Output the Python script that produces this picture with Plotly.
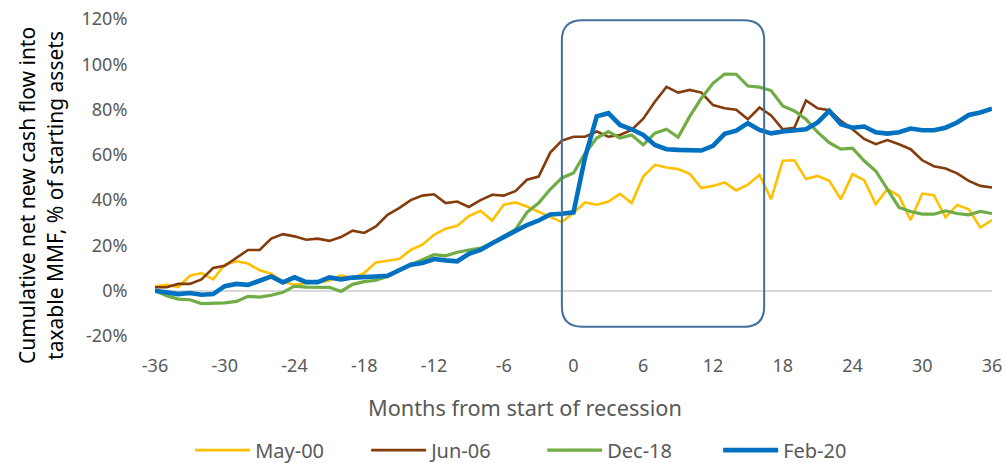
import plotly.graph_objects as go

months = list(range(-36, 37))

may_00 = [2, 2.6, 1.6, 6.6, 7.8, 5, 11.5, 13, 12, 9, 7.5, 4, 2.6, 3.4, 3.7, 4.5, 6.8, 5.5,
          7.8, 12.5, 13.2, 14, 18, 20.3, 24.7, 27.4, 28.7, 33, 35.3, 31, 38, 39, 37.2, 35, 32.6, 30.3,
          34.3, 39, 38, 39.4, 42.8, 38.7, 50.4, 55.6, 54.4, 53.7, 51.6, 45.3, 46.3, 47.8, 44.3, 46.8, 51.2, 40.4,
          57.4, 57.6, 49.3, 50.7, 48.5, 40.4, 51.5, 48.8, 38.2, 44.9, 41.9, 31.2, 42.9, 42.2, 32.4, 37.9, 36, 27.9, 31.2]

jun_06 = [1.5, 1.5, 3, 3, 5, 10, 11, 14.5, 18, 18, 23, 25, 24, 22.5, 23, 22, 23.7, 26.5,
          25.5, 28.4, 33.5, 36.5, 40, 42, 42.6, 38.7, 39.4, 37, 40, 42.4, 42, 44, 49, 50.4, 61, 66.3,
          68, 68, 70.3, 68, 68.8, 71, 76, 83.5, 90, 87.5, 88.7, 87.5, 82, 80.6, 79.9, 75.7, 80.9, 77.4,
          71.3, 72, 84, 80.6, 79.7, 75, 71.3, 67, 64.7, 66.5, 64.7, 62.5, 57.6, 55, 54, 51.8, 48.5, 46.3, 45.6]

dec_18 = [0, -2.2, -3.7, -4, -5.7, -5.4, -5.4, -4.7, -2.5, -2.8, -2, -0.7, 2, 1.6, 1.6, 1.5, -0.3, 2.8,
          4, 4.6, 6.3, 9, 11.5, 13.7, 15.9, 15.4, 17, 18, 18.8, 21, 24, 27, 34.6, 38.7, 44.8, 49.8,
          52, 60.7, 67.4, 70.3, 67.4, 68.8, 64.4, 69.6, 71.3, 67.8, 77, 85, 91.6, 95.7, 95.6, 90.4, 89.9, 88.4,
          81.6, 79.4, 75.7, 70, 65.4, 62.5, 63, 57.4, 52.9, 44.9, 36.8, 35, 33.8, 33.8, 35.3, 34.1, 33.5, 35, 34.1]

feb_20 = [0, -0.7, -1.5, -1, -1.8, -1.5, 2, 3, 2.6, 4.4, 6.3, 3.7, 5.9, 3.8, 3.8, 5.9, 5, 5.8,
          6.3, 6.3, 6.6, 9, 11.5, 12.2, 14, 13.4, 13, 16.3, 18, 21, 23.7, 26.5, 29, 31, 33.7, 34,
          34.6, 59, 77, 78.4, 73.2, 71.3, 68.8, 64.4, 62.5, 62.2, 61.9, 61.9, 64, 69.3, 70.7, 74, 71, 69.5,
          70.3, 70.6, 71.3, 74.3, 79.4, 73.5, 72, 72.5, 70, 69.4, 70, 71.6, 70.9, 70.9, 72, 74.3, 77.6, 78.7, 80.4]

series_names = ["May-00", "Jun-06", "Dec-18", "Feb-20"]
series_values = [may_00, jun_06, dec_18, feb_20]
series_colors = ["#FFC000", "#843C0C", "#70AD47", "#0070C0"]
series_widths = [2.6, 2.6, 3.2, 4.6]

x_ticks = list(range(-36, 37, 6))
y_ticks = list(range(-20, 121, 20))

# highlight box (months, percent)
box_x0, box_x1 = -1.0, 16.4
box_y0, box_y1 = -15.9, 119.5
rx, ry = 1.75, 8.8

FONT = "Noto Sans"

fig = go.Figure()
for name, vals, col, w in zip(series_names, series_values, series_colors, series_widths):
    fig.add_trace(go.Scatter(x=months, y=[v / 100 for v in vals], mode="lines", name=name,
                             line=dict(color=col, width=w)))

def Y(v):
    return v / 100

path = (f"M {box_x0 + rx},{Y(box_y1)} L {box_x1 - rx},{Y(box_y1)} "
        f"Q {box_x1},{Y(box_y1)} {box_x1},{Y(box_y1 - ry)} "
        f"L {box_x1},{Y(box_y0 + ry)} Q {box_x1},{Y(box_y0)} {box_x1 - rx},{Y(box_y0)} "
        f"L {box_x0 + rx},{Y(box_y0)} Q {box_x0},{Y(box_y0)} {box_x0},{Y(box_y0 + ry)} "
        f"L {box_x0},{Y(box_y1 - ry)} Q {box_x0},{Y(box_y1)} {box_x0 + rx},{Y(box_y1)} Z")
fig.add_shape(type="path", path=path, xref="x", yref="y",
              line=dict(color="#41719C", width=2), layer="above")

fig.add_annotation(text="Cumulative net new cash flow into<br>taxable MMF, % of starting assets",
                   xref="paper", yref="paper", x=-0.136, y=0.442, xanchor="center", yanchor="middle",
                   textangle=-90, showarrow=False,
                   font=dict(family=FONT, size=21, color="#000000"))
fig.add_annotation(text="Months from start of recession", xref="paper", yref="paper",
                   x=0.442, y=-0.224, xanchor="center", yanchor="middle", showarrow=False,
                   font=dict(family=FONT, size=21.7, color="#595959"))

fig.update_layout(
    width=1006, height=463,
    margin=dict(l=155, r=14, t=19, b=127, autoexpand=False),
    paper_bgcolor="white", plot_bgcolor="white",
    showlegend=True,
    legend=dict(orientation="h", x=0.042, y=-0.36, xanchor="left", yanchor="middle",
                font=dict(family=FONT, size=20, color="#595959"),
                itemwidth=55, entrywidth=106, traceorder="normal"),
    xaxis=dict(range=[-36, 36], tickvals=x_ticks, ticktext=[str(t) for t in x_ticks],
               showgrid=False, zeroline=False, showline=False, ticklabeloverflow="allow",
               ticks="outside", ticklen=13, tickcolor="rgba(0,0,0,0)",
               tickfont=dict(family=FONT, size=18, color="#595959")),
    yaxis=dict(range=[-0.2, 1.2], tickvals=[v / 100 for v in y_ticks],
               ticktext=[f"{v}%" for v in y_ticks], ticklabeloverflow="allow",
               showgrid=False, zeroline=True, zerolinecolor="#D9D9D9", zerolinewidth=2,
               showline=False, ticks="outside", ticklen=23, tickcolor="rgba(0,0,0,0)",
               tickfont=dict(family=FONT, size=18, color="#595959")),
)

fig.write_html("out.html", default_width="1006px", default_height="463px",
               config={"displayModeBar": False},
               post_script="document.body.style.margin='0px';document.body.style.overflow='hidden';")
